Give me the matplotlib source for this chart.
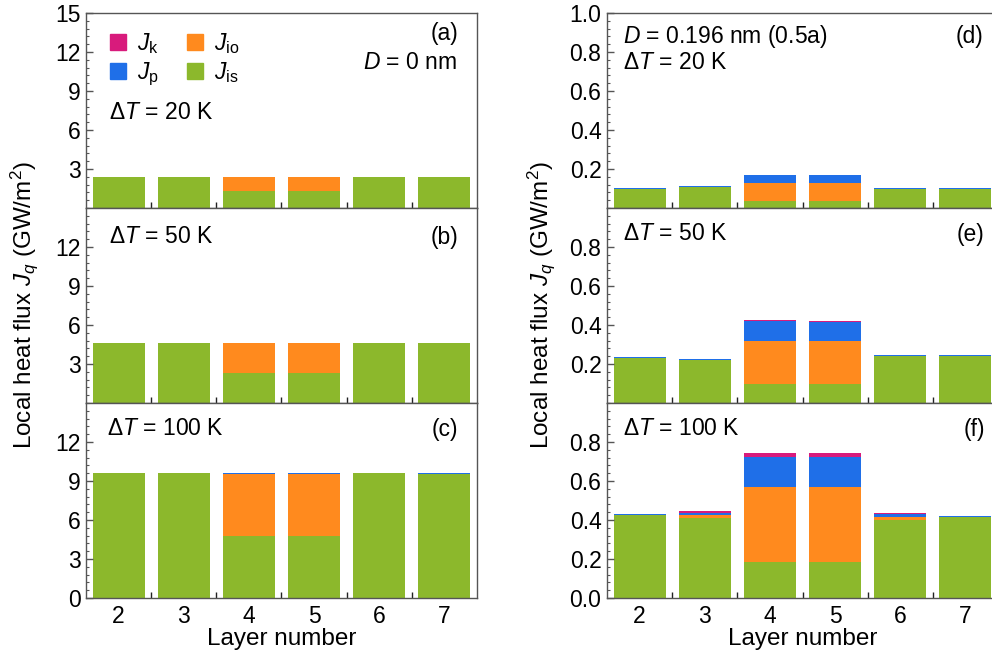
import matplotlib
matplotlib.use("Agg")
import matplotlib.pyplot as plt
from matplotlib.patches import Patch
from matplotlib.ticker import AutoMinorLocator, FixedLocator, FormatStrFormatter

plt.rcParams['font.family'] = ['Liberation Sans', 'DejaVu Sans']
plt.rcParams['mathtext.fontset'] = 'custom'
plt.rcParams['mathtext.rm'] = 'Liberation Sans'
plt.rcParams['mathtext.it'] = 'Liberation Sans:italic'
plt.rcParams['mathtext.bf'] = 'Liberation Sans:bold'
plt.rcParams['font.size'] = 16.5

layers = [2, 3, 4, 5, 6, 7]

# D = 0 nm, GW/m^2
jis_20 = [2.38, 2.40, 1.30, 1.30, 2.40, 2.40]
jio_20 = [0.0, 0.0, 1.07, 1.07, 0.0, 0.0]
jp_20 = [0.01, 0.01, 0.01, 0.01, 0.01, 0.01]
jk_20 = [0.0, 0.0, 0.0, 0.0, 0.0, 0.0]

jis_50 = [4.60, 4.58, 2.30, 2.30, 4.58, 4.58]
jio_50 = [0.0, 0.0, 2.28, 2.28, 0.0, 0.0]
jp_50 = [0.02, 0.02, 0.02, 0.02, 0.02, 0.02]
jk_50 = [0.0, 0.0, 0.0, 0.0, 0.0, 0.0]

jis_100 = [9.60, 9.60, 4.75, 4.75, 9.60, 9.56]
jio_100 = [0.0, 0.0, 4.80, 4.80, 0.0, 0.0]
jp_100 = [0.02, 0.02, 0.06, 0.04, 0.02, 0.07]
jk_100 = [0.0, 0.0, 0.01, 0.01, 0.0, 0.01]

# D = 0.196 nm (0.5a), GW/m^2
jis_d20 = [0.100, 0.108, 0.036, 0.036, 0.100, 0.100]
jio_d20 = [0.0, 0.0, 0.094, 0.094, 0.0, 0.0]
jp_d20 = [0.004, 0.004, 0.038, 0.038, 0.003, 0.003]
jk_d20 = [0.001, 0.001, 0.002, 0.002, 0.001, 0.001]

jis_d50 = [0.230, 0.218, 0.100, 0.100, 0.240, 0.243]
jio_d50 = [0.002, 0.003, 0.220, 0.220, 0.002, 0.0]
jp_d50 = [0.004, 0.003, 0.100, 0.095, 0.003, 0.004]
jk_d50 = [0.001, 0.001, 0.006, 0.006, 0.001, 0.001]

jis_d100 = [0.425, 0.410, 0.185, 0.185, 0.400, 0.415]
jio_d100 = [0.0, 0.015, 0.386, 0.386, 0.015, 0.0]
jp_d100 = [0.004, 0.012, 0.154, 0.152, 0.015, 0.004]
jk_d100 = [0.001, 0.007, 0.020, 0.020, 0.007, 0.001]

c_k = '#d81b7c'
c_p = '#1f6fe8'
c_io = '#ff8a1e'
c_is = '#8cb82c'
spine_c = '#555555'

fig = plt.figure(figsize=(9.92, 6.62), dpi=100)

x0_l, x1_l = 86 / 992, 477 / 992
x0_r, x1_r = 607 / 992, 998 / 992
top = 1 - 13 / 662
h = 195 / 662

axes_l = [fig.add_axes([x0_l, top - (i + 1) * h, x1_l - x0_l, h]) for i in range(3)]
axes_r = [fig.add_axes([x0_r, top - (i + 1) * h, x1_r - x0_r, h]) for i in range(3)]


def stack(ax, jis, jio, jp, jk):
    b1 = [a + b for a, b in zip(jis, jio)]
    b2 = [a + b for a, b in zip(b1, jp)]
    ax.bar(layers, jis, width=0.8, color=c_is, linewidth=0)
    ax.bar(layers, jio, width=0.8, bottom=jis, color=c_io, linewidth=0)
    ax.bar(layers, jp, width=0.8, bottom=b1, color=c_p, linewidth=0)
    ax.bar(layers, jk, width=0.8, bottom=b2, color=c_k, linewidth=0)


def style(ax, ymax, yticks, minor_n, bottom):
    ax.set_xlim(1.5, 7.5)
    ax.set_ylim(0, ymax)
    ax.yaxis.set_major_locator(FixedLocator(yticks))
    ax.yaxis.set_minor_locator(AutoMinorLocator(minor_n))
    ax.set_xticks(layers)
    ax.xaxis.set_minor_locator(FixedLocator([2.5, 3.5, 4.5, 5.5, 6.5]))
    ax.tick_params(axis='y', which='major', direction='in', length=5, width=1, color=spine_c, pad=4)
    ax.tick_params(axis='y', which='minor', direction='in', length=2.5, width=0.8, color=spine_c)
    ax.tick_params(axis='x', which='major', length=0, pad=5)
    ax.tick_params(axis='x', which='minor', direction='in', length=4, width=1, color='#222222')
    if not bottom:
        ax.tick_params(axis='x', labelbottom=False)
    for s in ax.spines.values():
        s.set_color(spine_c)
        s.set_linewidth(1.0)


stack(axes_l[0], jis_20, jio_20, jp_20, jk_20)
stack(axes_l[1], jis_50, jio_50, jp_50, jk_50)
stack(axes_l[2], jis_100, jio_100, jp_100, jk_100)
stack(axes_r[0], jis_d20, jio_d20, jp_d20, jk_d20)
stack(axes_r[1], jis_d50, jio_d50, jp_d50, jk_d50)
stack(axes_r[2], jis_d100, jio_d100, jp_d100, jk_d100)

style(axes_l[0], 15, [3, 6, 9, 12, 15], 5, False)
style(axes_l[1], 15, [3, 6, 9, 12], 5, False)
style(axes_l[2], 15, [0, 3, 6, 9, 12], 5, True)
style(axes_r[0], 1.0, [0.2, 0.4, 0.6, 0.8, 1.0], 5, False)
style(axes_r[1], 1.0, [0.2, 0.4, 0.6, 0.8], 5, False)
style(axes_r[2], 1.0, [0.0, 0.2, 0.4, 0.6, 0.8], 5, True)
for ax in axes_r:
    ax.yaxis.set_major_formatter(FormatStrFormatter('%.1f'))

# panel annotations
ax = axes_l[0]
ax.text(0.952, 0.895, '(a)', transform=ax.transAxes, ha='right', va='center')
ax.text(0.95, 0.744, r'$D$ = 0 nm', transform=ax.transAxes, ha='right', va='center')
ax.text(0.058, 0.49, r'$\Delta T$ = 20 K', transform=ax.transAxes, ha='left', va='center')
handles = [Patch(color=c_k), Patch(color=c_p), Patch(color=c_io), Patch(color=c_is)]
labels = [r'$J_\mathrm{k}$', r'$J_\mathrm{p}$', r'$J_\mathrm{io}$', r'$J_\mathrm{is}$']
ax.legend(handles, labels, ncol=2, loc='upper left', bbox_to_anchor=(0.008, 1.015),
          frameon=False, handlelength=0.7, handleheight=0.7, handletextpad=0.5,
          columnspacing=1.2, labelspacing=0.2, fontsize=16.5)

axes_l[1].text(0.058, 0.856, r'$\Delta T$ = 50 K', transform=axes_l[1].transAxes, ha='left', va='center')
axes_l[1].text(0.952, 0.85, '(b)', transform=axes_l[1].transAxes, ha='right', va='center')
axes_l[2].text(0.054, 0.87, r'$\Delta T$ = 100 K', transform=axes_l[2].transAxes, ha='left', va='center')
axes_l[2].text(0.952, 0.865, '(c)', transform=axes_l[2].transAxes, ha='right', va='center')

axes_r[0].text(0.041, 0.877, r'$D$ = 0.196 nm (0.5a)', transform=axes_r[0].transAxes, ha='left', va='center')
axes_r[0].text(0.041, 0.744, r'$\Delta T$ = 20 K', transform=axes_r[0].transAxes, ha='left', va='center')
axes_r[0].text(0.962, 0.877, '(d)', transform=axes_r[0].transAxes, ha='right', va='center')
axes_r[1].text(0.041, 0.87, r'$\Delta T$ = 50 K', transform=axes_r[1].transAxes, ha='left', va='center')
axes_r[1].text(0.965, 0.865, '(e)', transform=axes_r[1].transAxes, ha='right', va='center')
axes_r[2].text(0.041, 0.87, r'$\Delta T$ = 100 K', transform=axes_r[2].transAxes, ha='left', va='center')
axes_r[2].text(0.967, 0.865, '(f)', transform=axes_r[2].transAxes, ha='right', va='center')

ylab = r'Local heat flux $J_q$ (GW/m$^2$)'
axes_l[1].set_ylabel(ylab, fontsize=17.5, labelpad=11)
axes_r[1].set_ylabel(ylab, fontsize=17.5, labelpad=9)
for ax in (axes_l[2], axes_r[2]):
    ax.set_xlabel('Layer number', fontsize=17.5, labelpad=0)

fig.savefig('out.png', dpi=100)
